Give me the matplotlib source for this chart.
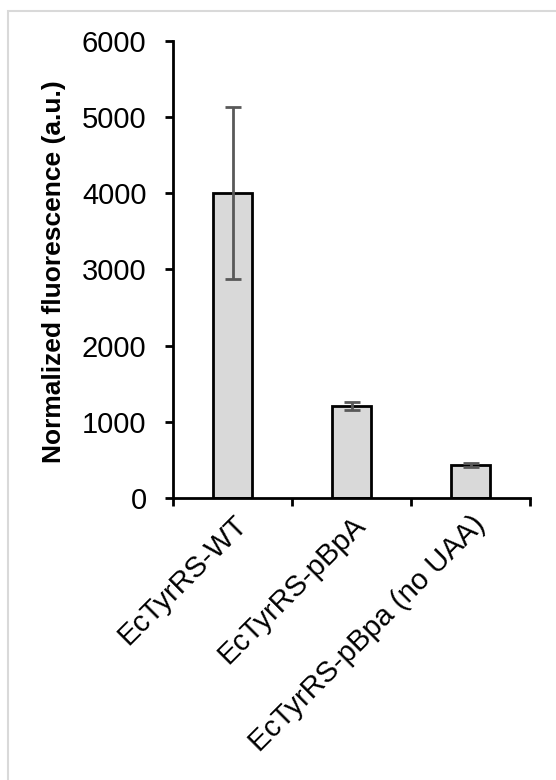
import numpy as np
import matplotlib
matplotlib.use('Agg')
import matplotlib.pyplot as plt
import matplotlib.transforms as mtransforms
from matplotlib.patches import Rectangle

plt.rcParams['font.family'] = ['Liberation Sans', 'DejaVu Sans']

categories = ['EcTyrRS-WT', 'EcTyrRS-pBpA', 'EcTyrRS-pBpa (no UAA)']
values = [4005, 1210, 433]
errors = [1135, 55, 25]
yticks = [0, 1000, 2000, 3000, 4000, 5000, 6000]

fig = plt.figure(figsize=(5.56, 7.8), dpi=100)
# light frame around the chart area
fig.patches.append(Rectangle((8 / 556, -0.1), 1.2, 1 - 11 / 780 + 0.1,
                             transform=fig.transFigure, fill=False,
                             edgecolor='#d9d9d9', linewidth=1.5))
ax = fig.add_axes([173 / 556, 1 - 498 / 780, (530 - 173) / 556, (498 - 41) / 780])

x = np.arange(len(categories))
ax.bar(x, values, width=0.32, color='#d9d9d9', edgecolor='black', linewidth=2,
       yerr=errors, error_kw=dict(ecolor='#595959', elinewidth=2, capsize=6, capthick=2),
       zorder=2)

ax.set_xlim(-0.5, len(categories) - 0.5)
ax.set_ylim(0, 6000)
ax.set_yticks(yticks)
ax.set_yticklabels([str(v) for v in yticks], fontsize=21)

ax.set_xticks(np.arange(len(categories) + 1) - 0.5)
ax.set_xticklabels([])
ax.set_xticks(x, minor=True)
ax.set_xticklabels(categories, minor=True, rotation=45, ha='right',
                   rotation_mode='anchor', fontsize=21)
shift = mtransforms.ScaledTranslation(-19 / 100, 0, fig.dpi_scale_trans)
for lab in ax.get_xticklabels(minor=True):
    lab.set_transform(lab.get_transform() + shift)
ax.tick_params(axis='x', which='minor', length=0, pad=9)
ax.tick_params(axis='x', which='major', length=6, width=2, direction='out')
ax.tick_params(axis='y', length=6, width=2, direction='out', pad=13)

for s in ['top', 'right']:
    ax.spines[s].set_visible(False)
for s in ['left', 'bottom']:
    ax.spines[s].set_linewidth(2)

ax.set_ylabel('Normalized fluorescence (a.u.)', fontsize=19, fontweight='bold')
ax.yaxis.set_label_coords(-0.3, 0.495)

plt.savefig('out.png', dpi=100)
plt.close()
